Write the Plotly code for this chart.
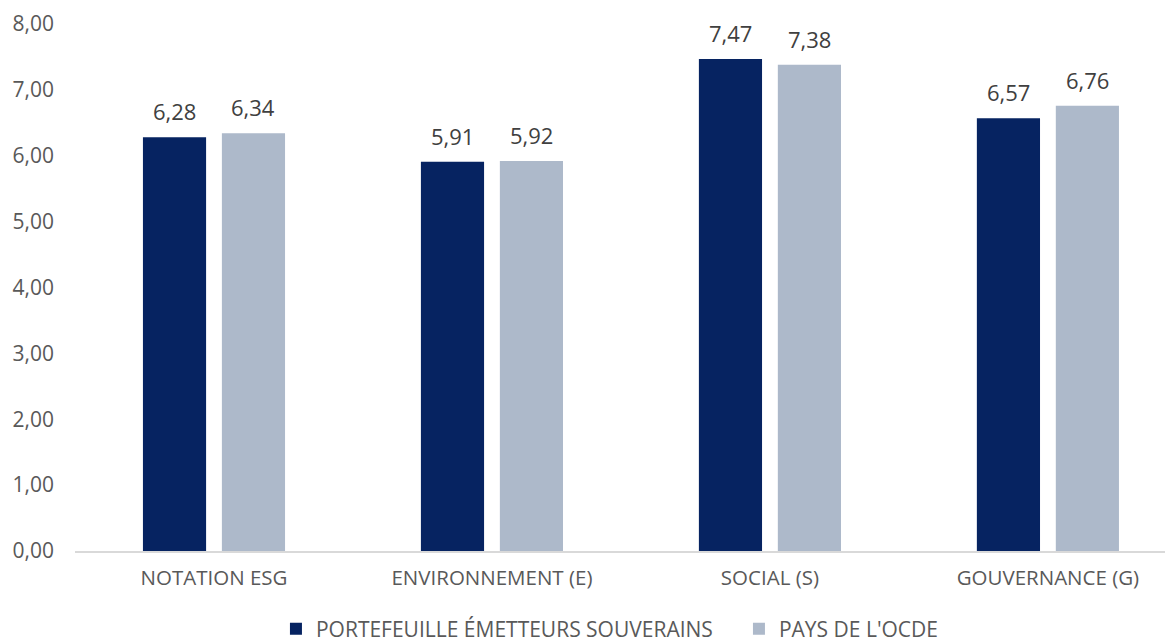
import plotly.graph_objects as go

categories = ["NOTATION ESG", "ENVIRONNEMENT (E)", "SOCIAL (S)", "GOUVERNANCE (G)"]
portefeuille = [6.28, 5.91, 7.47, 6.57]
ocde = [6.34, 5.92, 7.38, 6.76]
series_names = ["PORTEFEUILLE ÉMETTEURS SOUVERAINS", "PAYS DE L'OCDE"]
y_ticks = [0, 1, 2, 3, 4, 5, 6, 7, 8]

FONT = "Open Sans"
GREY = "#595959"
LABEL = "#404040"

fig = go.Figure()
fig.add_trace(go.Bar(
    x=categories, y=portefeuille, name=series_names[0],
    marker=dict(color="#062361", line=dict(width=0)),
))
fig.add_trace(go.Bar(
    x=categories, y=ocde, name=series_names[1],
    marker=dict(color="#ADB9CA", line=dict(width=0)),
))

# value labels above each bar (positioned in data coordinates)
for values, xshift in ((portefeuille, -39.5), (ocde, 39.5)):
    for cat, v in zip(categories, values):
        fig.add_annotation(
            x=cat, y=v, xref="x", yref="y", text=f"{v:.2f}".replace(".", ","),
            showarrow=False, xshift=xshift, yshift=26, yanchor="middle",
            font=dict(family=FONT, size=22, color=LABEL),
        )

# The page body has an 8px default margin, so the figure is sized 8px smaller
fig.update_layout(
    width=1165, height=635,
    margin=dict(l=67, r=0, t=16, b=92, autoexpand=False),
    paper_bgcolor="white", plot_bgcolor="white",
    separators=", ",
    barmode="group", bargap=0.432, bargroupgap=0.2,
    font=dict(family=FONT, size=20, color=GREY),
    showlegend=True,
    legend=dict(orientation="h", xref="container", yref="container",
                x=0.230, xanchor="left", y=0.022, yanchor="middle",
                font=dict(family=FONT, size=21, color=GREY),
                entrywidth=418, entrywidthmode="pixels", traceorder="normal"),
    xaxis=dict(type="category", range=[-0.5, 3.45], showgrid=False, automargin=False,
               showline=True, linecolor="#D9D9D9", linewidth=1.5,
               ticks="", tickfont=dict(family=FONT, size=20.5, color=GREY),
               ticklabelstandoff=8),
    yaxis=dict(range=[0, 8], tickvals=y_ticks, tickformat=".2f", showgrid=False,
               automargin=False, zeroline=False, showline=False, ticks="",
               tickfont=dict(family=FONT, size=21, color=GREY),
               ticklabelstandoff=20),
)

fig.write_html("out.html")
